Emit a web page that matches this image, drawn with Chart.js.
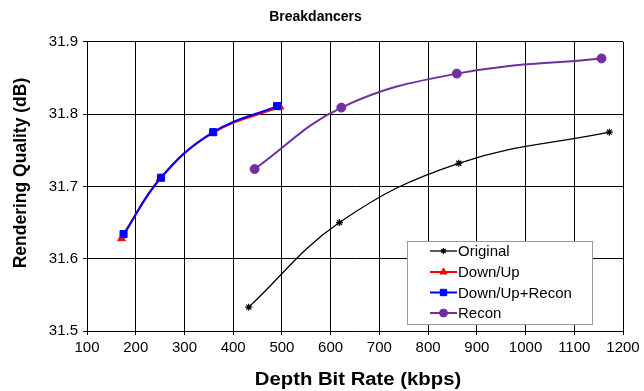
<!DOCTYPE html>
<html>
<head>
<meta charset="utf-8">
<script src="https://cdn.jsdelivr.net/npm/chart.js@4/dist/chart.umd.min.js"></script>
<style>
  html, body { margin: 0; padding: 0; background: #fff; }
  #wrap { width: 644px; height: 391px; }
</style>
</head>
<body>
<div id="wrap"><canvas id="chart" width="644" height="391"></canvas></div>
<script>
// Breakdancers - rendering quality vs depth bit rate
const SERIES_LABELS = ['Original', 'Down/Up', 'Down/Up+Recon', 'Recon'];

const originalRate = [432, 618, 863, 1172];
const originalQuality = [31.533, 31.650, 31.732, 31.775];

const downUpRate = [171, 250, 358, 496];
const downUpQuality = [31.628, 31.711, 31.774, 31.810];

const downUpReconRate = [175, 252, 359, 490];
const downUpReconQuality = [31.634, 31.712, 31.775, 31.811];

const reconRate = [444, 622, 859, 1156];
const reconQuality = [31.724, 31.809, 31.856, 31.877];

const X_TICKS = [100, 200, 300, 400, 500, 600, 700, 800, 900, 1000, 1100, 1200];
const Y_TICKS = [31.5, 31.6, 31.7, 31.8, 31.9];

const X_TITLE = 'Depth Bit Rate (kbps)';
const Y_TITLE = 'Rendering Quality (dB)';

const FONT = 'Arial, "Liberation Sans", sans-serif';

function toPoints(xs, ys) {
  return xs.map((x, i) => ({ x, y: ys[i] }));
}

const datasets = [
  {
    label: SERIES_LABELS[0],
    data: toPoints(originalRate, originalQuality),
    borderColor: '#000000',
    backgroundColor: '#000000',
    borderWidth: 1.3,
    pointStyle: 'star',
    pointRadius: 3.5,
    pointBorderWidth: 1.2,
    order: 3
  },
  {
    label: SERIES_LABELS[1],
    data: toPoints(downUpRate, downUpQuality),
    borderColor: '#ff0000',
    backgroundColor: '#ff0000',
    borderWidth: 2,
    pointStyle: 'triangle',
    pointRadius: 4.5,
    pointBorderWidth: 1,
    order: 2
  },
  {
    label: SERIES_LABELS[2],
    data: toPoints(downUpReconRate, downUpReconQuality),
    borderColor: '#0000ff',
    backgroundColor: '#0000ff',
    borderWidth: 2,
    pointStyle: 'rect',
    pointRadius: 5,
    pointBorderWidth: 1,
    order: 0
  },
  {
    label: SERIES_LABELS[3],
    data: toPoints(reconRate, reconQuality),
    borderColor: '#7030a0',
    backgroundColor: '#7030a0',
    borderWidth: 2,
    pointStyle: 'circle',
    pointRadius: 4.5,
    pointBorderWidth: 1,
    order: 1
  }
];

// axis titles: the original picture is a bit stretched sideways
const axisTitles = {
  id: 'axisTitles',
  afterDraw(chart) {
    const ctx = chart.ctx;
    ctx.save();
    ctx.fillStyle = '#000';
    ctx.font = 'bold 17.5px ' + FONT;
    ctx.textAlign = 'center';
    ctx.textBaseline = 'middle';
    ctx.save();
    ctx.translate(358, 380);
    ctx.scale(1.16, 1);
    ctx.fillText(X_TITLE, 0, 0);
    ctx.restore();
    ctx.save();
    ctx.translate(21, 173);
    ctx.rotate(-Math.PI / 2);
    ctx.fillText(Y_TITLE, 0, 0);
    ctx.restore();
    ctx.restore();
  }
};

// legend box drawn inside the plot, Excel style
const boxLegend = {
  id: 'boxLegend',
  afterDraw(chart) {
    const ctx = chart.ctx;
    const left = 407, top = 241, w = 185, h = 83;
    ctx.save();
    ctx.fillStyle = '#ffffff';
    ctx.fillRect(left, top, w, h);
    ctx.strokeStyle = '#999999';
    ctx.lineWidth = 1;
    ctx.strokeRect(left + 0.5, top + 0.5, w, h);
    ctx.font = '15px ' + FONT;
    ctx.textBaseline = 'middle';
    ctx.textAlign = 'left';
    const rows = [251, 272, 292.5, 313];
    datasets.forEach((ds, i) => {
      const y = rows[i];
      ctx.strokeStyle = ds.borderColor;
      ctx.lineWidth = ds.borderWidth;
      ctx.beginPath();
      ctx.moveTo(430, y);
      ctx.lineTo(457, y);
      ctx.stroke();
      ctx.fillStyle = ds.borderColor;
      ctx.strokeStyle = ds.borderColor;
      ctx.lineWidth = ds.pointBorderWidth;
      Chart.helpers.drawPoint(ctx, {
        pointStyle: ds.pointStyle,
        radius: ds.pointRadius - 0.5,
        borderWidth: ds.pointBorderWidth,
        rotation: 0
      }, 443.5, y);
      ctx.fillStyle = '#000000';
      ctx.fillText(ds.label, 458, y + 1);
    });
    ctx.restore();
  }
};

new Chart(document.getElementById('chart'), {
  type: 'line',
  data: { datasets },
  options: {
    responsive: false,
    animation: false,
    layout: { padding: { left: 8, right: 21, top: 0, bottom: 0 } },
    elements: { line: { tension: 0.4, fill: false } },
    plugins: {
      legend: { display: false },
      tooltip: { enabled: false },
      title: {
        display: true,
        text: 'Breakdancers',
        color: '#000',
        font: { family: FONT, size: 14, weight: 'bold' },
        padding: { top: 9, bottom: 16 }
      }
    },
    scales: {
      x: {
        type: 'linear',
        min: X_TICKS[0],
        max: X_TICKS[X_TICKS.length - 1],
        afterBuildTicks: s => { s.ticks = X_TICKS.map(v => ({ value: v })); },
        afterFit: s => { s.height = 60; },
        grid: { color: '#000', lineWidth: 1, tickLength: 4, tickColor: '#000' },
        border: { color: '#000', width: 1 },
        ticks: { color: '#000', font: { family: FONT, size: 15 }, padding: 4, maxRotation: 0, callback: v => String(v) }
      },
      y: {
        min: Y_TICKS[0],
        max: Y_TICKS[Y_TICKS.length - 1],
        afterBuildTicks: s => { s.ticks = Y_TICKS.map(v => ({ value: v })); },
        afterFit: s => { s.width = 79; },
        grid: { color: '#000', lineWidth: 1, tickLength: 4, tickColor: '#000' },
        border: { color: '#000', width: 1 },
        ticks: { color: '#000', font: { family: FONT, size: 15 }, padding: 5, callback: v => v.toFixed(1) }
      }
    }
  },
  plugins: [axisTitles, boxLegend]
});
</script>
</body>
</html>
